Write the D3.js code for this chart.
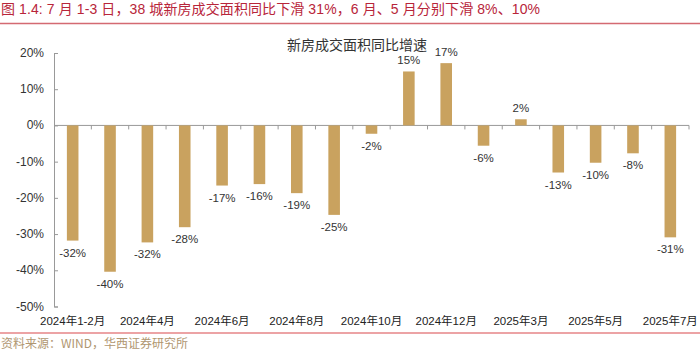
<!DOCTYPE html>
<html>

<head>
    <meta charset="utf-8">
    <script src="https://d3js.org/d3.v7.min.js"></script>
    <style>
        body { margin: 0; background: #fff; }
        text { font-family: "Liberation Sans", "Noto Sans CJK SC", sans-serif; }
    </style>
</head>

<body>
    <svg id="chart"></svg>

    <script>
        // Data (percent, year on year)
        const months = ['2024年1-2月', '2024年3月', '2024年4月', '2024年5月', '2024年6月', '2024年7月',
            '2024年8月', '2024年9月', '2024年10月', '2024年11月', '2024年12月', '2025年1-2月',
            '2025年3月', '2025年4月', '2025年5月', '2025年6月', '2025年7月'];
        const growth = [-31.8, -40.4, -32.3, -28.1, -16.6, -16.2, -18.7, -24.7, -2.3, 14.9, 17.2,
            -5.6, 1.7, -13.0, -10.3, -7.7, -30.9];
        const yTicks = [20, 10, 0, -10, -20, -30, -40, -50];
        const shownLabels = ['2024年1-2月', '2024年4月', '2024年6月', '2024年8月', '2024年10月',
            '2024年12月', '2025年3月', '2025年5月', '2025年7月'];

        const width = 700;
        const height = 351;

        const svg = d3.select('#chart')
            .attr('width', width)
            .attr('height', height);

        // header and footer
        svg.append('text')
            .attr('x', 1)
            .attr('y', 13.5)
            .attr('font-size', 14)
            .attr('fill', '#b8253a')
            .attr('textLength', 539)
            .attr('lengthAdjust', 'spacing')
            .text('图 1.4: 7 月 1-3 日，38 城新房成交面积同比下滑 31%，6 月、5 月分别下滑 8%、10%');

        svg.append('line')
            .attr('x1', 0).attr('x2', width)
            .attr('y1', 23.5).attr('y2', 23.5)
            .attr('stroke', '#d46a72').attr('stroke-width', 1.5);

        svg.append('line')
            .attr('x1', 0).attr('x2', width)
            .attr('y1', 333).attr('y2', 333)
            .attr('stroke', '#d9484d').attr('stroke-width', 1.2);

        svg.append('text')
            .attr('x', 1)
            .attr('y', 347.5)
            .attr('font-size', 12)
            .attr('fill', '#b09670')
            .style('font-family', '"Noto Sans CJK SC", sans-serif')
            .text('资料来源：WIND，华西证券研究所');

        // scales
        const x = d3.scaleBand()
            .domain(months)
            .range([54, 689])
            .paddingInner(0.69)
            .paddingOuter(0.345);

        const y = d3.scaleLinear()
            .domain([-50, 20])
            .range([306.5, 53]);

        // chart title
        svg.append('text')
            .attr('x', 357)
            .attr('y', 50)
            .attr('text-anchor', 'middle')
            .attr('font-size', 14)
            .attr('fill', '#333')
            .style('font-family', '"Noto Sans CJK SC", serif')
            .text('新房成交面积同比增速');

        // y axis
        const yAxis = svg.append('g')
            .attr('transform', 'translate(54,0)')
            .call(d3.axisRight(y).tickValues(yTicks).tickSize(4).tickFormat(''));
        yAxis.select('.domain').attr('stroke', '#999');
        yAxis.selectAll('.tick line').attr('stroke', '#999');

        svg.selectAll('.ylab')
            .data(yTicks)
            .enter()
            .append('text')
            .attr('class', 'ylab')
            .attr('x', 44)
            .attr('y', d => y(d) + 4)
            .attr('text-anchor', 'end')
            .attr('font-size', 12)
            .attr('fill', '#333')
            .text(d => d + '%');

        // zero line with boundary ticks
        const step = x.step();
        const bounds = d3.range(months.length + 1).map(i => 54 + i * step);
        svg.append('line')
            .attr('x1', 54).attr('x2', 689)
            .attr('y1', y(0)).attr('y2', y(0))
            .attr('stroke', '#999');
        svg.selectAll('.xtick')
            .data(bounds.slice(1))
            .enter()
            .append('line')
            .attr('class', 'xtick')
            .attr('x1', d => d).attr('x2', d => d)
            .attr('y1', y(0)).attr('y2', y(0) + 4)
            .attr('stroke', '#999');

        // bars
        svg.selectAll('.bar')
            .data(growth)
            .enter()
            .append('rect')
            .attr('class', 'bar')
            .attr('x', (d, i) => x(months[i]))
            .attr('width', x.bandwidth())
            .attr('y', d => y(Math.max(0, d)))
            .attr('height', d => Math.abs(y(d) - y(0)))
            .attr('fill', '#c9a25f');

        // value labels
        svg.selectAll('.val')
            .data(growth)
            .enter()
            .append('text')
            .attr('class', 'val')
            .attr('x', (d, i) => x(months[i]) + x.bandwidth() / 2)
            .attr('y', d => d < 0 ? y(d) + 16 : y(d) - 7)
            .attr('text-anchor', 'middle')
            .attr('font-size', 11.5)
            .attr('fill', '#333')
            .text(d => Math.round(d) + '%');

        // category labels
        svg.selectAll('.xlab')
            .data(shownLabels)
            .enter()
            .append('text')
            .attr('class', 'xlab')
            .attr('x', d => x(d) + x.bandwidth() / 2)
            .attr('y', 325)
            .attr('text-anchor', 'middle')
            .attr('font-size', 11.5)
            .attr('fill', '#222')
            .text(d => d);
    </script>
</body>

</html>
